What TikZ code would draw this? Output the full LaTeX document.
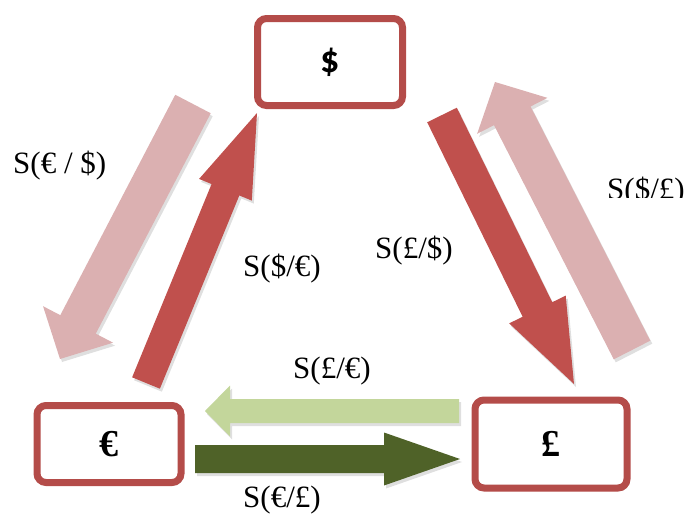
\documentclass[tikz,border=0pt]{standalone}
\usepackage{fontspec}
\setmainfont{Liberation Serif}
\newfontfamily\calibrifont{Carlito}
\usetikzlibrary{calc,shadows}
\definecolor{boxred}{RGB}{180,76,73}
\definecolor{arrred}{RGB}{192,80,77}
\definecolor{arrpink}{RGB}{219,176,177}
\definecolor{arrlgreen}{RGB}{195,214,155}
\definecolor{arrdgreen}{RGB}{79,98,40}
\tikzstyle{currency}=[draw=boxred,line width=7pt,fill=white,rounded corners=9pt,inner sep=0pt,
  drop shadow={opacity=.3,shadow xshift=2pt,shadow yshift=-3pt}]
\tikzstyle{rate}=[anchor=base west,inner sep=0pt,font=\fontsize{31}{36}\selectfont]
% tail, tip, half shaft, half head, head length, colour
\newcommand{\fatarrow}[6]{%
  \coordinate (fa-h) at ($(#2)!#5!(#1)$);
  \fill[#6,drop shadow={opacity=.25,shadow xshift=2pt,shadow yshift=-3pt}]
    ($(#1)!#3!90:(#2)$) -- ($(fa-h)!#3!90:(#2)$) -- ($(fa-h)!#4!90:(#2)$) -- (#2)
    -- ($(fa-h)!#4!-90:(#2)$) -- ($(fa-h)!#3!-90:(#2)$) -- ($(#1)!#3!-90:(#2)$) -- cycle;
}
\begin{document}
\begin{tikzpicture}[x=1pt,y=-1pt]
\useasboundingbox (0,0) rectangle (688,514);
\coordinate (usd2eur-s) at (193,104);
\coordinate (usd2eur-t) at (60,359);
\coordinate (eur2usd-s) at (146,383);
\coordinate (eur2usd-t) at (257,113);
\coordinate (usd2gbp-s) at (442,115);
\coordinate (usd2gbp-t) at (574,384);
\coordinate (gbp2usd-s) at (632,350);
\coordinate (gbp2usd-t) at (495,82);
\coordinate (gbp2eur-s) at (459,411);
\coordinate (gbp2eur-t) at (205,411);
\coordinate (eur2gbp-s) at (195,459);
\coordinate (eur2gbp-t) at (460,459);
\fatarrow{usd2eur-s}{usd2eur-t}{20pt}{39.5pt}{39pt}{arrpink}
\fatarrow{eur2usd-s}{eur2usd-t}{15pt}{28.5pt}{83pt}{arrred}
\fatarrow{usd2gbp-s}{usd2gbp-t}{16.5pt}{31.5pt}{83pt}{arrred}
\fatarrow{gbp2usd-s}{gbp2usd-t}{20.5pt}{39.5pt}{38pt}{arrpink}
\fatarrow{gbp2eur-s}{gbp2eur-t}{12pt}{25.5pt}{25pt}{arrlgreen}
\fatarrow{eur2gbp-s}{eur2gbp-t}{14pt}{26.5pt}{76pt}{arrdgreen}
\node[currency,minimum width=145pt,minimum height=87pt,font=\calibrifont\bfseries\fontsize{38}{40}\selectfont] (usd) at (330,62) {\$};
\node[currency,minimum width=144pt,minimum height=77pt,font=\bfseries\fontsize{38}{40}\selectfont] (eur) at (109,444) {€};
\node[currency,minimum width=152pt,minimum height=88pt,font=\bfseries\fontsize{38}{40}\selectfont] (gbp) at (551,444) {£};
\node[rate] (l-usd2eur) at (13,173) {S(€ / \$)};
\node[rate] (l-eur2usd) at (243,276) {S(\$/€)};
\node[rate] (l-usd2gbp) at (375,258) {S(£/\$)};
\begin{scope}
\clip (560,150) rectangle (688,197);
\node[rate] (l-gbp2usd) at (607,199) {S(\$/£)};
\end{scope}
\node[rate] (l-gbp2eur) at (293,378) {S(£/€)};
\node[rate] (l-eur2gbp) at (243,507) {S(€/£)};
\end{tikzpicture}
\end{document}
